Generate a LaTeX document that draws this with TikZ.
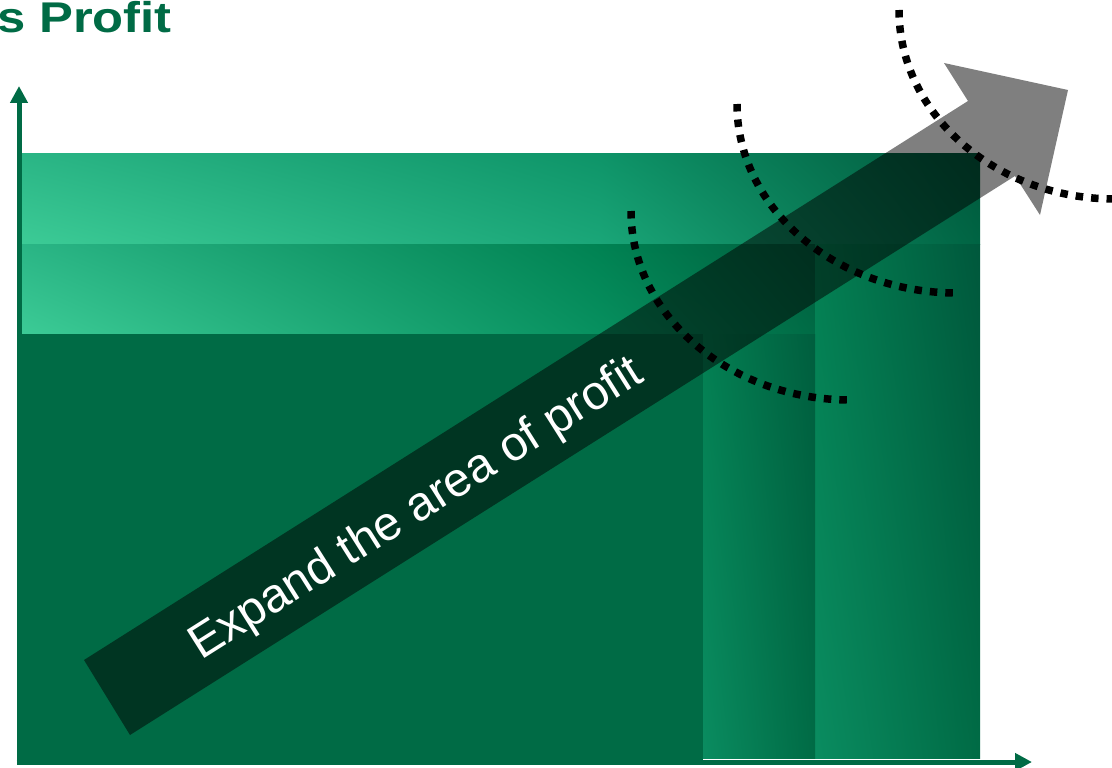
\documentclass[tikz,border=0pt]{standalone}
\usepackage{fontspec}
\setmainfont{Liberation Sans}
\usetikzlibrary{arrows.meta,shadings}

\definecolor{profitgreen}{HTML}{006B45}
\definecolor{liteA}{HTML}{3CCB96}
\definecolor{liteB}{HTML}{2AB585}
\definecolor{midA}{HTML}{1AA678}
\definecolor{midB}{HTML}{0E9468}
\definecolor{midC}{HTML}{07905F}
\definecolor{midD}{HTML}{008252}
\definecolor{darkA}{HTML}{00583C}
\definecolor{darkB}{HTML}{006443}
\definecolor{darkC}{HTML}{005E3E}
\definecolor{colLite}{HTML}{0A8C60}
\definecolor{colTop}{HTML}{037F52}

\begin{document}
\begin{tikzpicture}[
  x=1pt, y=-1pt,
  axisline/.style={draw=profitgreen, line width=5pt, -{Triangle[width=17pt,length=17pt]}},
  arcdots/.style={draw=black, line width=7.5pt, dash pattern=on 7.5pt off 8pt},
  bigarrow/.style={fill=black, fill opacity=0.5}
]
\useasboundingbox (0,0) rectangle (1112,768);
\clip (0,0) rectangle (1112,768);

\def\rx{220}
\def\ry{189}

% title, cut at the left edge
\node[anchor=base east, inner sep=0, text=profitgreen,
  font=\fontsize{43}{50}\selectfont\bfseries] (title) at (172,33) {\scalebox{1.18}[1]{s Profit}};

% axes
\coordinate (origin) at (19,762);
\coordinate (ytip) at (19,86);
\coordinate (xtip) at (1032,762);
\draw[axisline] (origin) -- (ytip);
\draw[axisline] ([xshift=-2.5pt]origin) -- (xtip);

% profit areas
\shade[upper left=liteB, lower left=liteA, upper right=midB, lower right=midA] (22,153) rectangle (600,244);
\shade[upper left=midB, lower left=midA, upper right=darkA, lower right=darkB] (599.5,153) rectangle (980,244);
\shade[upper left=liteB, lower left=liteA, upper right=midD, lower right=midC] (22,244) rectangle (600,334);
\shade[upper left=midD, lower left=midC, upper right=darkC, lower right=profitgreen] (599.5,244) rectangle (815,334);
\shade[upper left=colTop, lower left=colLite, upper right=darkA, lower right=profitgreen] (815,244) rectangle (980,758);
\shade[upper left=colTop, lower left=colLite, upper right=darkC, lower right=profitgreen] (703,334) rectangle (815,758);
\fill[profitgreen] (19,334) rectangle (703,763);

% dotted arcs
\draw[arcdots] (631,211) arc[start angle=180, end angle=90, x radius=\rx, y radius=\ry];
\draw[arcdots] (737,104) arc[start angle=180, end angle=90, x radius=\rx, y radius=\ry];
\draw[arcdots] (899,10) arc[start angle=180, end angle=90, x radius=216, y radius=\ry];

% expansion arrow
\coordinate (tailL) at (130,735);
\coordinate (tailU) at (84,660);
\coordinate (notchU) at (968,101);
\coordinate (barbU) at (944,63);
\coordinate (tip) at (1068,90);
\coordinate (barbL) at (1040,215);
\coordinate (notchL) at (1015,176);
\fill[bigarrow] (tailU) -- (notchU) -- (barbU) -- (tip) -- (barbL) -- (notchL) -- (tailL) -- cycle;

\node[rotate=32.3, anchor=base west, inner sep=0, text=white,
  font=\fontsize{48}{56}\selectfont] (expandtxt) at (201,661) {Expand the area of profit};

\end{tikzpicture}
\end{document}
